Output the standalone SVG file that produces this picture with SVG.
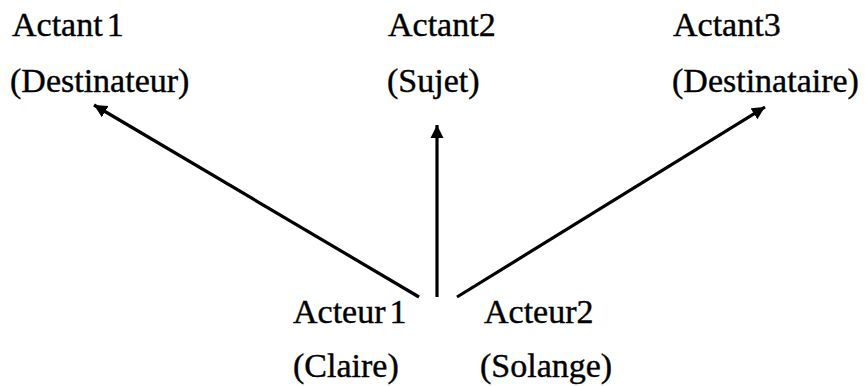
<svg xmlns="http://www.w3.org/2000/svg" width="865" height="386" viewBox="0 0 865 386">
  <style>
    .lbl { font-family: "Liberation Serif", "Times New Roman", serif; font-size: 34px; fill: #000; stroke: #000; stroke-width: 0.4; }
    .edge { stroke: #000; stroke-width: 3.2; fill: none; }
  </style>
  <defs>
    <marker id="arrow" markerUnits="userSpaceOnUse" markerWidth="14" markerHeight="14" viewBox="0 0 14 14" refX="13" refY="7" orient="auto">
      <path d="M0,0.5 L13,7 L0,13.5 Z" fill="#000"/>
    </marker>
  </defs>
  <rect width="865" height="386" fill="#fff"/>

  <g id="actant1">
    <text class="lbl" x="12" y="36">Actant<tspan dx="4">1</tspan></text>
    <text class="lbl" x="10" y="92">(Destinateur)</text>
  </g>
  <g id="actant2">
    <text class="lbl" x="388" y="36">Actant2</text>
    <text class="lbl" x="387" y="92">(Sujet)</text>
  </g>
  <g id="actant3">
    <text class="lbl" x="673" y="36">Actant3</text>
    <text class="lbl" x="672" y="92">(Destinataire)</text>
  </g>
  <g id="acteur1">
    <text class="lbl" x="293" y="323">Acteur<tspan dx="4">1</tspan></text>
    <text class="lbl" x="293" y="377">(Claire)</text>
  </g>
  <g id="acteur2">
    <text class="lbl" x="484" y="323">Acteur2</text>
    <text class="lbl" x="480" y="377">(Solange)</text>
  </g>

  <g id="connectors">
    <line class="edge" x1="419" y1="297" x2="94" y2="105" marker-end="url(#arrow)"/>
    <line class="edge" x1="437" y1="297" x2="437" y2="125" marker-end="url(#arrow)"/>
    <line class="edge" x1="457" y1="297" x2="765" y2="107" marker-end="url(#arrow)"/>
  </g>
</svg>
